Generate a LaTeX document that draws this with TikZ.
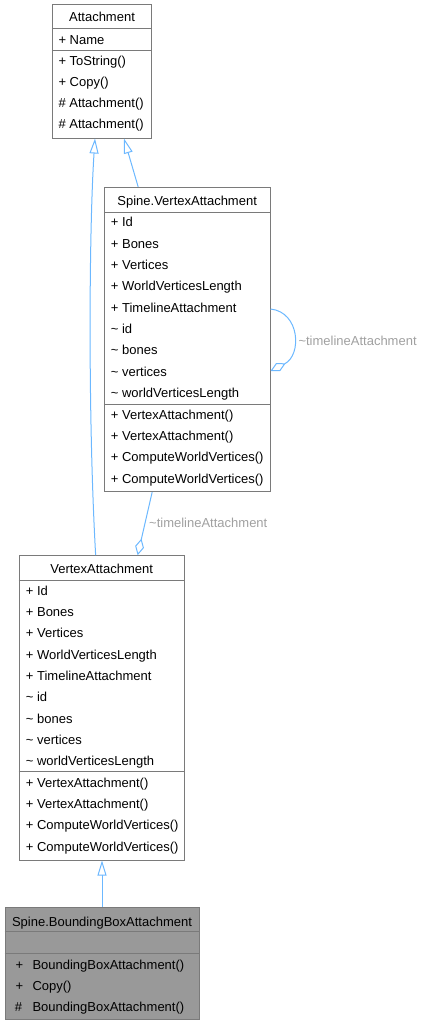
\documentclass[tikz,border=0pt]{standalone}
\usepackage{fontspec}
\setmainfont{Liberation Sans}
\usetikzlibrary{arrows.meta}
\definecolor{edgeblue}{HTML}{6CB8FF}
\definecolor{boxline}{HTML}{7A7A7A}
\definecolor{lblgray}{HTML}{A0A0A0}
\definecolor{hlfill}{HTML}{999999}
\tikzset{
  umlbox/.style={draw=boxline, line width=1pt, fill=white, inner sep=0pt},
  sepline/.style={draw=boxline, line width=1pt},
  row/.style={anchor=base west, inner sep=0pt},
  ttl/.style={anchor=base, inner sep=0pt},
  lbl/.style={anchor=base west, inner sep=0pt, text=lblgray},
  inh/.style={draw=edgeblue, line width=1pt, -{Triangle[fill=white, length=15pt, width=9pt]}},
  agg/.style={draw=edgeblue, line width=1pt, -{Diamond[fill=white, length=17pt, width=9pt]}}
}
\begin{document}
\begin{tikzpicture}[x=1pt,y=-1pt,font=\fontsize{13}{15}\selectfont]
\useasboundingbox (0,0) rectangle (423,1025);

% ---------- Attachment ----------
\node[umlbox, minimum width=99.4pt, minimum height=133pt] (att) at (102,71.5) {};
\draw[sepline] (att.west |- 0,29) -- (att.east |- 0,29);
\draw[sepline] (att.west |- 0,50.7) -- (att.east |- 0,50.7);
\node[ttl] (att-t) at (102,21.5) {Attachment};
\node[row] (att-1) at (58.3,44.5) {+ Name};
\node[row] (att-2) at (58.3,65.5) {+ ToString()};
\node[row] (att-3) at (58.3,86.5) {+ Copy()};
\node[row] (att-4) at (58.3,107.8) {\# Attachment()};
\node[row] (att-5) at (58.3,128.8) {\# Attachment()};

% ---------- Spine.VertexAttachment ----------
\node[umlbox, minimum width=165.7pt, minimum height=304.4pt] (sva) at (187.15,339.5) {};
\draw[sepline] (sva.west |- 0,212.3) -- (sva.east |- 0,212.3);
\draw[sepline] (sva.west |- 0,404) -- (sva.east |- 0,404);
\node[ttl] (sva-t) at (187.15,205.5) {Spine.VertexAttachment};
\node[row] (sva-1) at (110.7,226.8) {+ Id};
\node[row] (sva-2) at (110.7,248.3) {+ Bones};
\node[row] (sva-3) at (110.7,269.6) {+ Vertices};
\node[row] (sva-4) at (110.7,290.9) {+ WorldVerticesLength};
\node[row] (sva-5) at (110.7,312.2) {+ TimelineAttachment};
\node[row] (sva-6) at (110.7,333.5) {\textasciitilde{} id};
\node[row] (sva-7) at (110.7,354.8) {\textasciitilde{} bones};
\node[row] (sva-8) at (110.7,376.1) {\textasciitilde{} vertices};
\node[row] (sva-9) at (110.7,397.4) {\textasciitilde{} worldVerticesLength};
\node[row] (sva-10) at (110.7,419.3) {+ VertexAttachment()};
\node[row] (sva-11) at (110.7,440.6) {+ VertexAttachment()};
\node[row] (sva-12) at (110.7,461.9) {+ ComputeWorldVertices()};
\node[row] (sva-13) at (110.7,483.2) {+ ComputeWorldVertices()};

% ---------- VertexAttachment ----------
\node[umlbox, minimum width=165.3pt, minimum height=304.3pt] (va) at (101.65,707.85) {};
\draw[sepline] (va.west |- 0,580) -- (va.east |- 0,580);
\draw[sepline] (va.west |- 0,771.7) -- (va.east |- 0,771.7);
\node[ttl] (va-t) at (101.65,573.8) {VertexAttachment};
\node[row] (va-1) at (25.7,595.2) {+ Id};
\node[row] (va-2) at (25.7,616.5) {+ Bones};
\node[row] (va-3) at (25.7,637.8) {+ Vertices};
\node[row] (va-4) at (25.7,659.1) {+ WorldVerticesLength};
\node[row] (va-5) at (25.7,680.4) {+ TimelineAttachment};
\node[row] (va-6) at (25.7,701.7) {\textasciitilde{} id};
\node[row] (va-7) at (25.7,723.0) {\textasciitilde{} bones};
\node[row] (va-8) at (25.7,744.3) {\textasciitilde{} vertices};
\node[row] (va-9) at (25.7,765.6) {\textasciitilde{} worldVerticesLength};
\node[row] (va-10) at (25.7,787.2) {+ VertexAttachment()};
\node[row] (va-11) at (25.7,808.5) {+ VertexAttachment()};
\node[row] (va-12) at (25.7,829.8) {+ ComputeWorldVertices()};
\node[row] (va-13) at (25.7,851.1) {+ ComputeWorldVertices()};

% ---------- Spine.BoundingBoxAttachment ----------
\node[umlbox, fill=hlfill, minimum width=194pt, minimum height=111.6pt] (bb) at (102,963.5) {};
\draw[sepline] (bb.west |- 0,931) -- (bb.east |- 0,931);
\draw[sepline] (bb.west |- 0,953.3) -- (bb.east |- 0,953.3);
\node[ttl] (bb-t) at (102,926.2) {Spine.BoundingBoxAttachment};
\node[row] (bb-s1) at (15.5,969.5) {+};
\node[row] (bb-1) at (32.3,969.5) {BoundingBoxAttachment()};
\node[row] (bb-s2) at (15.5,990.5) {+};
\node[row] (bb-2) at (32.3,990.5) {Copy()};
\node[row] (bb-s3) at (14.7,1011.2) {\#};
\node[row] (bb-3) at (32.3,1011.2) {BoundingBoxAttachment()};

% ---------- connectors ----------
\draw[inh] ([xshift=-6pt]va.north) .. controls (88,420) and (89,230) .. ([xshift=-7pt]att.south);
\draw[inh] ([xshift=-49pt]sva.north) -- ([xshift=22pt]att.south);
\draw[inh] (bb.north) -- (bb.north |- va.south);
\draw[agg] ([xshift=-35pt]sva.south) -- ([xshift=36pt]va.north);
\node[lbl] (lab1) at (149,527.8) {\textasciitilde{}timelineAttachment};
\coordinate (loopa) at ([yshift=30.5pt]sva.east);
\coordinate (loopb) at ([yshift=-31.5pt]sva.east);
\draw[agg] (loopa) .. controls (300,312) and (302,355) .. (loopb);
\node[lbl] (lab2) at (298.3,345.2) {\textasciitilde{}timelineAttachment};
\end{tikzpicture}
\end{document}
